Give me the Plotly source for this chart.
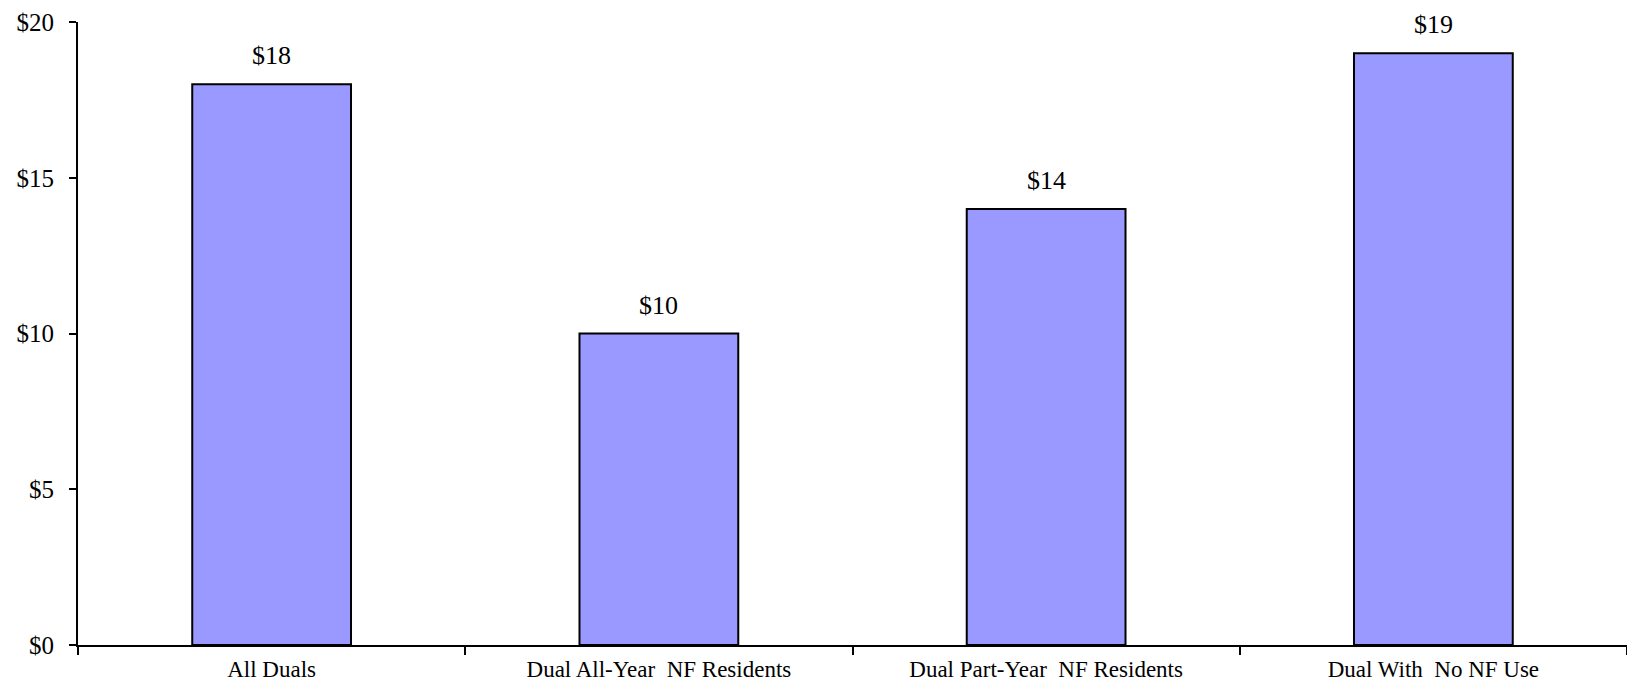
import plotly.graph_objects as go

categories = ["All Duals", "Dual All-Year  NF Residents", "Dual Part-Year  NF Residents", "Dual With  No NF Use"]
values = [18, 10, 14, 19]
labels = ["$18", "$10", "$14", "$19"]

fig = go.Figure(go.Bar(
    x=categories, y=values,
    marker=dict(color="#9999FF", line=dict(color="black", width=2)),
    width=0.41, hoverinfo="skip",
))
for c, v, t in zip(categories, values, labels):
    fig.add_annotation(x=c, y=v, text=t, showarrow=False, yanchor="bottom",
                       yshift=12, font=dict(family="Liberation Serif", size=26, color="black"))

fig.update_layout(
    width=1619, height=674,
    margin=dict(l=70, r=0, t=14, b=37),
    paper_bgcolor="white", plot_bgcolor="white",
    font=dict(family="Liberation Serif", size=20, color="black"),
    showlegend=False,
)
fig.update_yaxes(range=[0, 20], dtick=5, tickprefix="$", showgrid=False, zeroline=False,
                 showline=True, linecolor="black", linewidth=2, ticks="outside",
                 ticklen=7, tickwidth=2, tickcolor="black", tickfont=dict(size=25),
                 ticklabelstandoff=10, ticklabeloverflow="allow", automargin=False)
fig.update_xaxes(showline=True, linecolor="black", linewidth=2, ticks="outside",
                 tickson="boundaries", ticklen=8, tickwidth=2, tickcolor="black",
                 tickfont=dict(size=23), ticklabelstandoff=2, ticklabeloverflow="allow",
                 automargin=False)
fig.write_html("out.html")
